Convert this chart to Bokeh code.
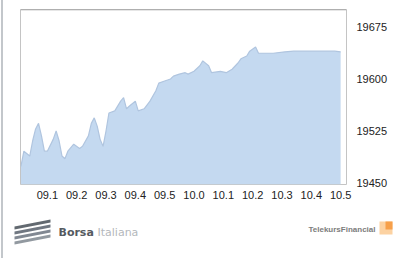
from bokeh.plotting import figure
from bokeh.embed import file_html
from bokeh.resources import INLINE
from bokeh.models import FixedTicker, Span
from bokeh.core.properties import value

# minutes after 09:00
minutes = [1, 2, 4, 5, 6, 7, 8, 9, 10, 12, 13, 14, 15, 16, 17, 19, 21, 22, 24, 25,
           26, 27, 28, 29, 30, 31, 33, 35, 36, 37, 38, 40, 41, 43, 45, 47, 48, 50,
           52, 53, 55, 57, 58, 60, 62, 63, 65, 66, 69, 71, 73, 75, 76, 78, 79, 81,
           82, 84, 87, 91, 94, 97, 101, 104, 108, 110]
index_values = [19474, 19496, 19489, 19511, 19528, 19536, 19518, 19496, 19496, 19513,
                19525, 19511, 19489, 19485, 19496, 19506, 19500, 19503, 19518, 19536,
                19544, 19532, 19513, 19503, 19525, 19551, 19554, 19568, 19573, 19557,
                19561, 19568, 19554, 19557, 19568, 19583, 19594, 19597, 19600, 19604,
                19607, 19609, 19607, 19611, 19619, 19626, 19619, 19609, 19611, 19609,
                19614, 19623, 19629, 19633, 19640, 19646, 19637, 19637, 19637, 19639,
                19640, 19640, 19640, 19640, 19640, 19639]

x_ticks = [10, 20, 30, 40, 50, 60, 70, 80, 90, 100, 110]
x_tick_labels = ["09.1", "09.2", "09.3", "09.4", "09.5", "10.0",
                 "10.1", "10.2", "10.3", "10.4", "10.5"]
y_ticks = [19450, 19525, 19600, 19675]
y_tick_labels = ["19450", "19525", "19600", "19675"]
y_base = 19448
y_top = 19700

CHART_H = 201

p = figure(width=392, height=CHART_H, x_range=(0.85, 112), y_range=(y_base, y_top),
           output_backend="svg", toolbar_location=None, y_axis_location="right",
           min_border_left=17, min_border_right=49, min_border_top=9, min_border_bottom=10)
p.styles = {"position": "absolute", "left": "1px", "top": "0px",
            "border-left": "2px solid #c3c7cb"}

p.background_fill_color = "white"
p.border_fill_color = "white"
p.outline_line_color = "#c4c4c4"
p.grid.visible = False

p.varea(x=minutes, y1=[y_base] * len(minutes), y2=index_values,
        fill_color="#c4d9f0", fill_alpha=1.0)
p.line(x=minutes, y=index_values, line_color="#b0c5df", line_width=1.2)
p.add_layout(Span(location=y_top, dimension="width", line_color="#9a9a9a", line_width=1.5))

for ax in (p.xaxis[0], p.yaxis[0]):
    ax.axis_line_color = None
    ax.major_tick_line_color = None
    ax.minor_tick_line_color = None
    ax.major_label_text_font = "Liberation Sans"
    ax.major_label_text_font_size = "11px"
    ax.major_label_text_color = "#222222"

p.xaxis[0].ticker = FixedTicker(ticks=x_ticks)
p.xaxis[0].major_label_overrides = dict(zip(x_ticks, x_tick_labels))
p.xaxis[0].major_label_standoff = 0
p.yaxis[0].ticker = FixedTicker(ticks=y_ticks)
p.yaxis[0].major_label_overrides = dict(zip(y_ticks, y_tick_labels))
p.yaxis[0].major_label_standoff = 4

# footer with logos (page-pixel coordinates)
FOOT_H = 258 - CHART_H
f = figure(width=392, height=FOOT_H, x_range=(3, 395), y_range=(258, CHART_H),
           output_backend="svg", toolbar_location=None,
           min_border=0, min_border_left=0, min_border_right=0,
           min_border_top=0, min_border_bottom=0)
f.styles = {"position": "absolute", "left": "1px", "top": f"{CHART_H}px",
            "border-left": "2px solid #c3c7cb"}
f.axis.visible = False
f.grid.visible = False
f.outline_line_color = None
f.background_fill_color = "white"
f.border_fill_color = "white"

stripe_cols = ["#5a6168", "#68707a", "#7a828c", "#8c939b"]
xs, ys = [], []
for i in range(4):
    yl = 226 + i * 5
    xs.append([14, 50, 50, 14])
    ys.append([yl, yl - 7, yl - 4, yl + 3])
f.patches(xs=xs, ys=ys, fill_color=stripe_cols, line_color=None, fill_alpha=0.95)
f.text(x=[58], y=[232], text=["Borsa"], text_font=value("DejaVu Sans"),
       text_font_style="bold", text_font_size="11px", text_color="#555a60",
       text_baseline="middle")
f.text(x=[97], y=[232], text=["Italiana"], text_font=value("DejaVu Sans"),
       text_font_size="11px", text_color="#b4b8bc", text_baseline="middle")
f.text(x=[308], y=[229], text=["TelekursFinancial"], text_font=value("Liberation Sans"),
       text_font_style="bold", text_font_size="8px", text_color="#7c7c7c",
       text_baseline="middle")
f.quad(left=[379], right=[392], top=[221], bottom=[234], fill_color="#fcd2a2",
       line_color=None)
f.quad(left=[385], right=[392], top=[221], bottom=[229], fill_color="#f7a04a",
       line_color=None)

open("out.html", "w").write(file_html([p, f], INLINE))
